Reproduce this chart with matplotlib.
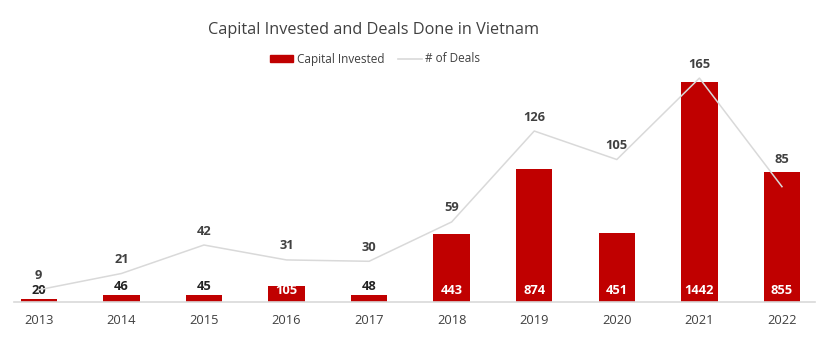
import matplotlib
matplotlib.use("Agg")
import matplotlib.pyplot as plt
from matplotlib.patches import Patch
from matplotlib.lines import Line2D

years = ["2013", "2014", "2015", "2016", "2017", "2018", "2019", "2020", "2021", "2022"]
capital = [20, 46, 45, 105, 48, 443, 874, 451, 1442, 855]
deals = [9, 21, 42, 31, 30, 59, 126, 105, 165, 85]

plt.rcParams['font.family'] = ['Open Sans', 'DejaVu Sans']

RED = "#c00000"
GREY = "#d9d9d9"
TXT = "#404040"

fig = plt.figure(figsize=(8.21, 3.44), dpi=100)
W, H = 821, 344
ax = fig.add_axes([14 / W, (H - 302) / H, (815 - 14) / W, (302 - 60) / H])
ax2 = ax.twinx()

x = list(range(len(years)))
ax.bar(x, capital, width=0.44, color=RED, zorder=2)
ax.set_ylim(0, 242 / 0.1526)
ax.set_xlim(-0.3, 9.4)
ax2.set_ylim(0, 242 / 1.357)
ax2.plot(x, deals, color=GREY, lw=1.1, zorder=3)

for a in (ax, ax2):
    for s in a.spines.values():
        s.set_visible(False)
    a.set_yticks([])
ax.spines['bottom'].set_visible(True)
ax.spines['bottom'].set_color(GREY)
ax.spines['bottom'].set_linewidth(1.2)
ax.set_xticks(x)
ax.set_xticklabels(years, fontsize=9.3, color=TXT)
ax.tick_params(axis='x', length=0, pad=9)

for xi, v in zip(x, capital):
    if v >= 100:
        ax.annotate(str(v), (xi, 0), xytext=(0, 12), textcoords='offset pixels',
                    ha='center', va='center', color='white', fontsize=9.3, fontweight='bold', zorder=5)
    else:
        ax.annotate(str(v), (xi, v), xytext=(0, 2), textcoords='offset pixels',
                    ha='center', va='bottom', color='#222222', fontsize=9.3, fontweight='bold', zorder=5)

for i, (xi, v) in enumerate(zip(x, deals)):
    off = 27 if i == len(deals) - 1 else 14
    ax2.annotate(str(v), (xi, v), xytext=(0, off), textcoords='offset pixels',
                 ha='center', va='center', color=TXT, fontsize=9.3, fontweight='bold', zorder=5)

fig.text(373 / W, 1 - 30 / H, "Capital Invested and Deals Done in Vietnam",
         ha='center', va='center', fontsize=11.7, color=TXT)

handles = [Patch(facecolor=RED, edgecolor=RED), Line2D([0], [0], color=GREY, lw=1.2)]
fig.legend(handles, ["Capital Invested", "# of Deals"], loc='center', bbox_to_anchor=(375 / W, 1 - 59 / H),
           ncol=2, frameon=False, fontsize=8.5, handlelength=2.0, handleheight=0.6,
           columnspacing=1.2, handletextpad=0.3, labelcolor=TXT)

fig.savefig("out.png", dpi=100, facecolor='white')
